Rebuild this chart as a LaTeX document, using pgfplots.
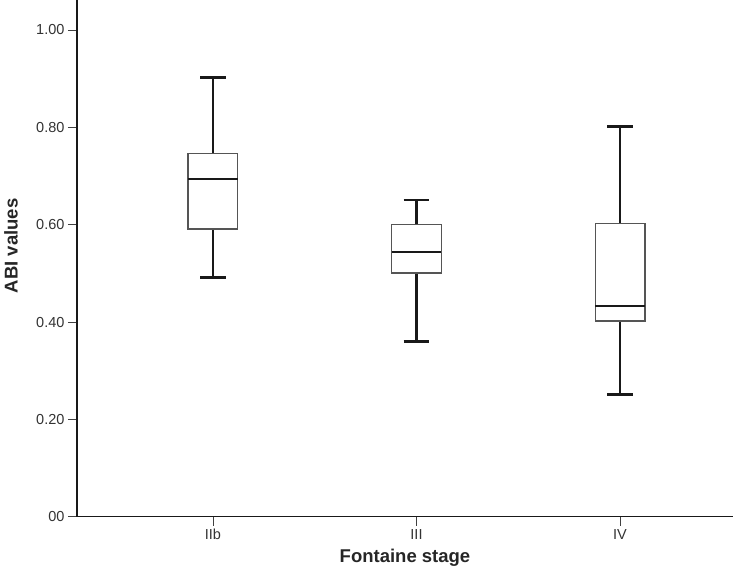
\documentclass[border=0pt]{standalone}
\usepackage{fontspec}
\setmainfont{Liberation Sans}
\usepackage{pgfplots}
\pgfplotsset{compat=1.18}
\usepgfplotslibrary{statistics}
\definecolor{boxgray}{HTML}{555555}
\definecolor{txtgray}{HTML}{333333}
\begin{document}
\begin{tikzpicture}[x=1pt,y=1pt]
\begin{axis}[
  at={(77pt,56.3pt)}, anchor=south west,
  scale only axis, width=656pt, height=516.7pt,
  xmin=0.332, xmax=3.555, ymin=0, ymax=1.0616,
  axis x line*=bottom, axis y line*=left,
  axis line style={black!90, line width=1.2pt},
  xtick={1,2,3}, xticklabels={IIb,III,IV},
  ytick={0,0.2,0.4,0.6,0.8,1.0},
  yticklabels={00,0.20,0.40,0.60,0.80,1.00},
  tick align=outside, major tick length=9pt,
  tick style={black!75, line width=0.9pt},
  ticklabel style={font=\fontsize{14.5}{16}\selectfont, text=txtgray},
  xlabel={Fontaine stage}, ylabel={ABI values},
  label style={font=\fontsize{18.5}{21}\selectfont\bfseries, text=black!85},
  x label style={at={(rel axis cs:0.5,0)}, anchor=base, yshift=-46pt},
  y label style={at={(axis description cs:-0.1006,0.524)}, anchor=center},
  boxplot/draw direction=y,
  boxplot/box extend=0.244,
  boxplot/whisker extend=0.126,
  boxplot/every box/.style={draw=boxgray, line width=1.3pt, fill=white},
  boxplot/every whisker/.style={black!90, line width=2.5pt},
  boxplot/every median/.style={black!90, line width=2pt},
  clip=false,
]
\addplot+[mark=none, black, boxplot prepared={draw position=1, lower whisker=0.491, lower quartile=0.591, median=0.693, upper quartile=0.746, upper whisker=0.902}] coordinates {};
\addplot+[mark=none, black, boxplot prepared={draw position=2, lower whisker=0.36, lower quartile=0.501, median=0.543, upper quartile=0.601, upper whisker=0.651}] coordinates {};
\addplot+[mark=none, black, boxplot prepared={draw position=3, lower whisker=0.251, lower quartile=0.402, median=0.432, upper quartile=0.603, upper whisker=0.802}] coordinates {};
\end{axis}
\pgfresetboundingbox
\path[use as bounding box] (0,0) rectangle (733pt,573pt);
\end{tikzpicture}
\end{document}
